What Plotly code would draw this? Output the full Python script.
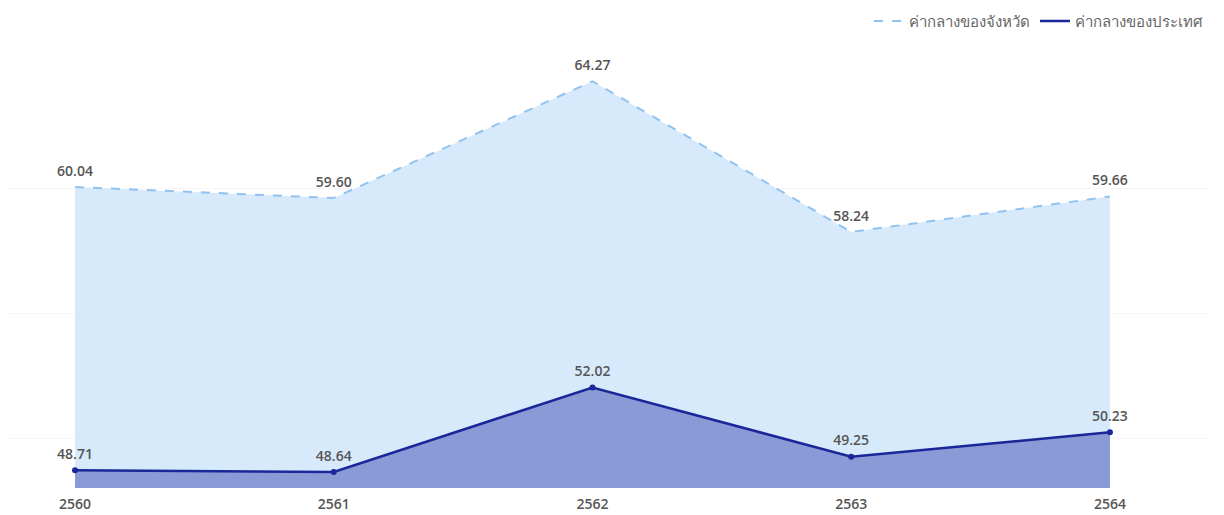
import plotly.graph_objects as go

years = [2560, 2561, 2562, 2563, 2564]
province = [60.04, 59.60, 64.27, 58.24, 59.66]
national = [48.71, 48.64, 52.02, 49.25, 50.23]
name_province = "ค่ากลางของจังหวัด"
name_national = "ค่ากลางของประเทศ"

label_font = dict(family="Open Sans, Noto Sans, sans-serif", size=14, color="#555555", weight=600)

fig = go.Figure()
fig.add_trace(go.Scatter(
    x=years, y=province, mode="lines", fill="tozeroy",
    fillcolor="#d7eafc", line=dict(color="#92c3ee", width=2, dash="dash"),
    showlegend=False, hoverinfo="skip"))
fig.add_trace(go.Scatter(
    x=years, y=national, mode="lines+markers", fill="tozeroy",
    fillcolor="#8a9ad6", line=dict(color="#1a2799", width=2.5),
    marker=dict(color="#1a2799", size=6),
    showlegend=False, hoverinfo="skip"))
# value labels
for vals in (province, national):
    fig.add_trace(go.Scatter(
        x=years, y=vals, mode="markers+text", cliponaxis=False,
        marker=dict(size=11, color="rgba(0,0,0,0)"),
        text=[f"{v:.2f}" for v in vals], textposition="top center",
        textfont=label_font, showlegend=False, hoverinfo="skip"))
# legend-only entries
fig.add_trace(go.Scatter(x=[None], y=[None], mode="lines", name=name_province,
                         line=dict(color="#92c3ee", width=2, dash="dash")))
fig.add_trace(go.Scatter(x=[None], y=[None], mode="lines", name=name_national,
                         line=dict(color="#1a2799", width=2.5)))

fig.update_layout(
    width=1216, height=507,
    margin=dict(l=0, r=16, t=55, b=27),
    paper_bgcolor="white", plot_bgcolor="white",
    font=dict(family="Open Sans, Noto Sans, sans-serif", color="#666666"),
    legend=dict(orientation="h", x=1, xanchor="right", y=0.974, yanchor="middle",
                yref="container", font=dict(size=15, color="#666666"),
                itemwidth=30, tracegroupgap=0),
    xaxis=dict(range=[2559.741, 2564.379], tickvals=years, ticktext=[str(y) for y in years],
               showgrid=False, zeroline=False, showline=False, ticks="",
               ticklabelstandoff=6,
               tickfont=dict(size=14, color="#555555", weight=600)),
    yaxis=dict(range=[48, 65], dtick=5, showgrid=True, gridcolor="#f6f6f6",
               zeroline=False, showticklabels=False, showline=False),
)
fig.write_html("out.html")
